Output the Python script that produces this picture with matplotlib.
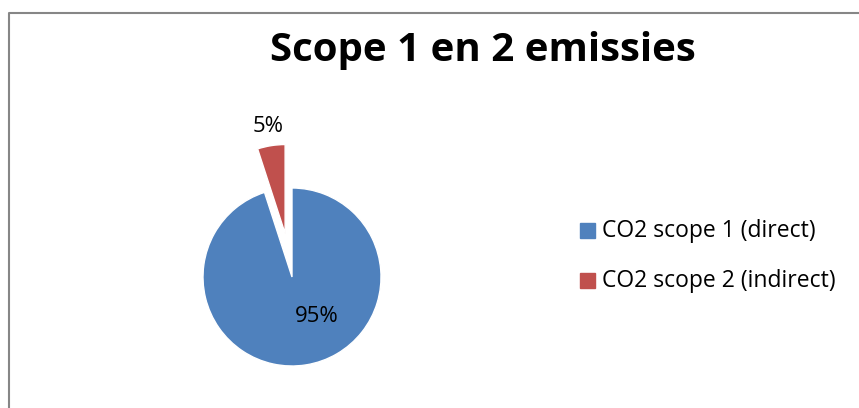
import matplotlib
matplotlib.use("Agg")
import matplotlib.pyplot as plt
from matplotlib.patches import Rectangle

# data
labels = ["CO2 scope 1 (direct)", "CO2 scope 2 (indirect)"]
values = [95, 5]
pct_labels = ["95%", "5%"]
colors = ["#4F81BD", "#C0504D"]
title = "Scope 1 en 2 emissies"

plt.rcParams['font.family'] = ['Open Sans', 'DejaVu Sans']

W, H = 859, 408
fig = plt.figure(figsize=(W / 100, H / 100), dpi=100)
ax = fig.add_axes([0, 0, 1, 1])
ax.set_xlim(0, W)
ax.set_ylim(0, H)
ax.set_aspect("equal")
ax.axis("off")

# chart border (only top and left visible)
ax.plot([9, 9, W + 5], [-5, H - 12.5, H - 12.5], color="#868686", lw=1.5)

cx, cy, r = 292, H - 277, 89
# explode is in data units here (pixels)
wedges, texts = ax.pie(values, colors=colors, explode=[0, 44], startangle=90,
                       counterclock=False, center=(cx, cy), radius=r,
                       labels=pct_labels, labeldistance=1.22,
                       wedgeprops=dict(edgecolor="white", linewidth=1),
                       textprops=dict(fontsize=16, color="black"))
ax.set_xlim(0, W)
ax.set_ylim(0, H)
# Excel puts the big slice label inside
texts[0].set_position((cx + 25, cy - 40))
for t in texts:
    t.set_ha("center")
    t.set_va("center")

ax.text(483, H - 50, title, ha="center", va="center", fontsize=29,
        fontweight="bold")

# legend
for i, lab in enumerate(labels):
    y = H - 231 - i * 50
    ax.add_patch(Rectangle((580, y - 7), 15, 15, color=colors[i]))
    ax.text(602, y, lab, ha="left", va="center", fontsize=16.5)

fig.savefig("out.png", dpi=100)
